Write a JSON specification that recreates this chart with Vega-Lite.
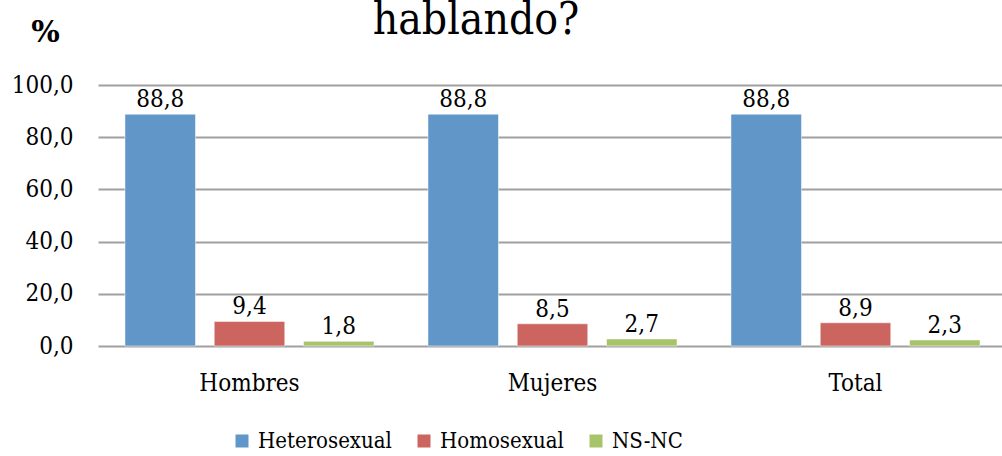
{
  "$schema": "https://vega.github.io/schema/vega-lite/v6.json",
  "autosize": {"type": "none"},
  "padding": {"left": 98, "top": 85, "right": 2, "bottom": 110},
  "width": 902,
  "height": 261,
  "title": {"text": "hablando?", "font": "DejaVu Serif Condensed", "fontSize": 44, "fontWeight": "normal", "color": "#000000", "anchor": "middle", "frame": "group", "dx": -73, "baseline": "alphabetic", "offset": 0, "dy": 61},
  "data": {"values": [
    {"grupo": "Hombres", "serie": "Heterosexual", "v": 88.8},
    {"grupo": "Hombres", "serie": "Homosexual", "v": 9.4},
    {"grupo": "Hombres", "serie": "NS-NC", "v": 1.8},
    {"grupo": "Mujeres", "serie": "Heterosexual", "v": 88.8},
    {"grupo": "Mujeres", "serie": "Homosexual", "v": 8.5},
    {"grupo": "Mujeres", "serie": "NS-NC", "v": 2.7},
    {"grupo": "Total", "serie": "Heterosexual", "v": 88.8},
    {"grupo": "Total", "serie": "Homosexual", "v": 8.9},
    {"grupo": "Total", "serie": "NS-NC", "v": 2.3}
  ]},
  "encoding": {
    "x": {"field": "grupo", "type": "nominal", "sort": ["Hombres", "Mujeres", "Total"],
      "scale": {"paddingInner": 0.178, "paddingOuter": 0.089, "range": [0, 909]},
      "axis": {"title": null, "labelAngle": 0, "ticks": false, "domain": false, "labelPadding": 25, "labelFont": "DejaVu Serif Condensed", "labelFontSize": 24, "labelColor": "#000000"}},
    "xOffset": {"field": "serie", "type": "nominal", "sort": ["Heterosexual", "Homosexual", "NS-NC"], "scale": {"paddingInner": 0.21}},
    "y": {"field": "v", "type": "quantitative", "scale": {"domain": [0, 100]},
      "axis": {"values": [0, 20, 40, 60, 80, 100], "format": ".1f", "ticks": false, "domain": false, "labelPadding": 25, "labelFont": "DejaVu Serif Condensed", "labelFontSize": 24, "labelColor": "#000000",
        "grid": true, "gridColor": "#a0a0a0", "gridWidth": 2,
        "title": "%", "titleAngle": 0, "titleX": -53, "titleY": -44, "titleAlign": "center", "titleBaseline": "alphabetic", "titleFont": "DejaVu Serif", "titleFontSize": 30, "titleFontWeight": "bold", "titleColor": "#000000"}}
  },
  "layer": [
    {"mark": {"type": "bar", "stroke": "#ffffff", "strokeOpacity": 0.5, "strokeWidth": 1},
      "encoding": {"color": {"field": "serie", "type": "nominal", "sort": ["Heterosexual", "Homosexual", "NS-NC"],
        "scale": {"domain": ["Heterosexual", "Homosexual", "NS-NC"], "range": ["#6096c8", "#cc6460", "#a8c46a"]},
        "legend": {"title": null, "orient": "none", "legendX": 133, "legendY": 345, "direction": "horizontal", "columns": 3, "columnPadding": 21, "symbolType": "square", "symbolSize": 169, "symbolStrokeWidth": 0, "labelOffset": 5, "labelFont": "DejaVu Serif Condensed", "labelFontSize": 22, "labelColor": "#000000"}}}},
    {"mark": {"type": "text", "baseline": "alphabetic", "dy": -7, "font": "DejaVu Serif Condensed", "fontSize": 24, "color": "#000000"},
      "encoding": {"text": {"field": "v", "type": "quantitative", "format": ".1f"}}}
  ],
  "config": {
    "locale": {"number": {"decimal": ",", "thousands": ".", "grouping": [3], "currency": ["", " €"]}},
    "view": {"stroke": null}
  }
}
